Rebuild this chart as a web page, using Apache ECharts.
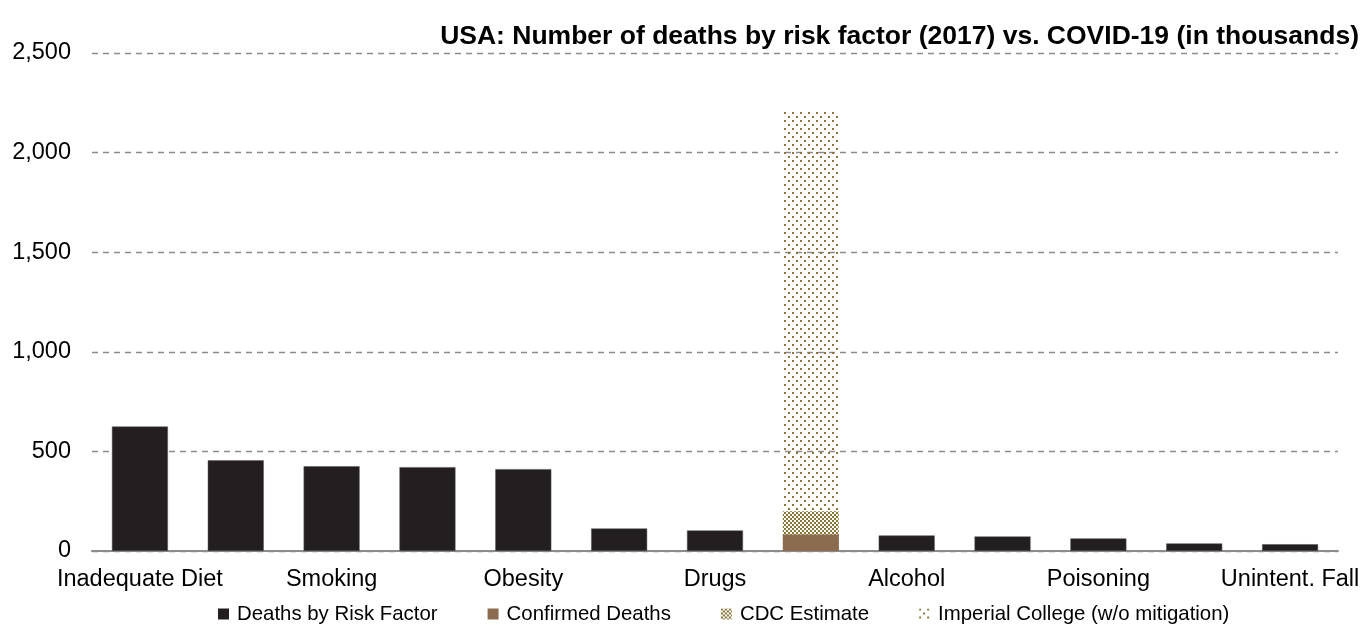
<!DOCTYPE html>
<html>
<head>
<meta charset="utf-8">
<script src="https://cdn.jsdelivr.net/npm/echarts@6/dist/echarts.min.js"></script>
<style>
  html, body { margin: 0; padding: 0; background: #fff; }
  #chart { width: 1367px; height: 631px; }
</style>
</head>
<body>
<div id="chart"></div>
<script>
// values in thousands of deaths
const categories = ['Inadequate Diet', 'High Blood Pressure', 'Smoking', 'High Blood Sugar', 'Obesity',
  'Air Pollution', 'Drugs', 'COVID-19', 'Alcohol', 'Low Physical Activity', 'Poisoning', 'Unsafe Sex', 'Unintent. Fall'];
const riskDeaths = [625, 455, 425, 421, 411, 113, 103, null, 78, 73, 63, 38, 34];
const confirmedDeaths = [null, null, null, null, null, null, null, 83, null, null, null, null, null];
const cdcEstimate = [null, null, null, null, null, null, null, 200, null, null, null, null, null];
const imperialCollege = [null, null, null, null, null, null, null, 2210, null, null, null, null, null];
const yTicks = [0, 500, 1000, 1500, 2000, 2500];

function makePattern(size, dots, color) {
  const c = document.createElement('canvas');
  c.width = size; c.height = size;
  const ctx = c.getContext('2d');
  ctx.fillStyle = color;
  dots.forEach(d => ctx.fillRect(d[0], d[1], 2, 2));
  return { image: c, repeat: 'repeat' };
}

const olive = '#8a7638';
const sparseDots = makePattern(8, [[0, 0], [4, 4]], olive);
const denseDots = makePattern(4, [[0, 0], [2, 2]], olive);

const myChart = echarts.init(document.getElementById('chart'));
const font = 'Liberation Sans, Arial, sans-serif';

const option = {
  animation: false,
  textStyle: { fontFamily: font },
  title: {
    text: 'USA: Number of deaths by risk factor (2017) vs. COVID-19 (in thousands)',
    right: 3,
    top: 18,
    textStyle: { fontSize: 26.5, fontWeight: 'bold', color: '#000', fontFamily: font }
  },
  legend: {
    top: 599,
    left: 213,
    icon: 'rect',
    itemWidth: 11,
    itemHeight: 11,
    itemGap: 50,
    itemStyle: { borderWidth: 0 },
    textStyle: { fontSize: 20.4, color: '#000', padding: [0, 0, 0, 3] },
    data: ['Deaths by Risk Factor', 'Confirmed Deaths', 'CDC Estimate', 'Imperial College (w/o mitigation)']
  },
  grid: { left: 92, right: 29, top: 53, bottom: 80 },
  xAxis: {
    type: 'category',
    data: categories,
    axisLine: { lineStyle: { color: '#8c8c8c', width: 2 } },
    axisTick: { show: false },
    axisLabel: { interval: 1, color: '#000', fontSize: 23.5, margin: 17 }
  },
  yAxis: {
    type: 'value',
    min: yTicks[0],
    max: yTicks[yTicks.length - 1],
    interval: 500,
    axisLine: { show: false },
    axisTick: { show: false },
    axisLabel: {
      color: '#000', fontSize: 23.5, margin: 21,
      formatter: v => v.toLocaleString('en-US')
    },
    splitLine: { lineStyle: { color: '#8c8c8c', type: [6, 5], width: 1.3 } }
  },
  series: [
    {
      name: 'Deaths by Risk Factor', type: 'bar', data: riskDeaths,
      barWidth: 56, barGap: '-100%',
      itemStyle: { color: '#231f20', borderColor: '#555', borderWidth: 0.5 }
    },
    {
      name: 'Imperial College (w/o mitigation)', type: 'bar', data: imperialCollege,
      barWidth: 56, barGap: '-100%',
      itemStyle: { color: sparseDots }
    },
    {
      name: 'CDC Estimate', type: 'bar', data: cdcEstimate,
      barWidth: 56, barGap: '-100%',
      itemStyle: { color: denseDots }
    },
    {
      name: 'Confirmed Deaths', type: 'bar', data: confirmedDeaths,
      barWidth: 56, barGap: '-100%',
      itemStyle: { color: '#8b6c4f' }
    }
  ]
};

myChart.setOption(option);
</script>
</body>
</html>
